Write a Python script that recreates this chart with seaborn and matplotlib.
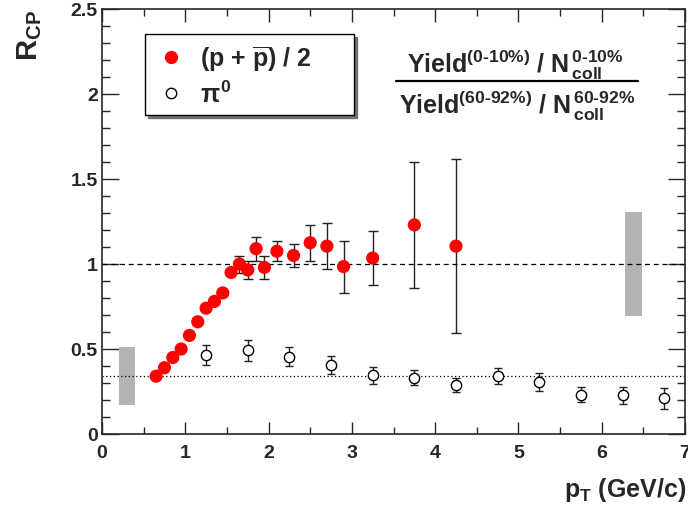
import numpy as np
import pandas as pd
import seaborn as sns
import matplotlib.pyplot as plt
from matplotlib.lines import Line2D
from matplotlib.ticker import MultipleLocator

# dados
pt_p = [0.65, 0.75, 0.85, 0.95, 1.05, 1.15, 1.25, 1.35, 1.45, 1.55, 1.65, 1.75,
        1.85, 1.95, 2.1, 2.3, 2.5, 2.7, 2.9, 3.25, 3.75, 4.25]
rcp_p = [0.34, 0.39, 0.45, 0.50, 0.58, 0.66, 0.74, 0.78, 0.83, 0.95, 1.00, 0.965,
         1.09, 0.98, 1.075, 1.05, 1.125, 1.105, 0.985, 1.035, 1.23, 1.105]
err_p = [0.01, 0.01, 0.01, 0.01, 0.01, 0.01, 0.01, 0.01, 0.01, 0.01, 0.05, 0.055,
         0.07, 0.07, 0.06, 0.07, 0.105, 0.135, 0.153, 0.16, 0.37, 0.51]

pt_pi0 = [1.25, 1.75, 2.25, 2.75, 3.25, 3.75, 4.25, 4.75, 5.25, 5.75, 6.25, 6.75]
rcp_pi0 = [0.465, 0.492, 0.455, 0.408, 0.345, 0.33, 0.29, 0.341, 0.306, 0.231, 0.229, 0.21]
err_pi0 = [0.057, 0.06, 0.055, 0.053, 0.048, 0.044, 0.041, 0.049, 0.051, 0.045, 0.05, 0.06]

# incertezas de normalizacao (caixas cinza)
box_x = [0.3, 6.38]
box_w = [0.2, 0.2]
box_lo = [0.17, 0.695]
box_hi = [0.51, 1.305]

ref_proton = 1.0
ref_pion = 0.34

df_p = pd.DataFrame({"pt": pt_p, "rcp": rcp_p, "err": err_p})
df_pi = pd.DataFrame({"pt": pt_pi0, "rcp": rcp_pi0, "err": err_pi0})

sns.set_style("ticks")
plt.rcParams['font.family'] = ['Liberation Sans', 'DejaVu Sans']
plt.rcParams['font.weight'] = 'bold'
plt.rcParams['mathtext.fontset'] = 'custom'
plt.rcParams['mathtext.rm'] = 'Liberation Sans:bold'
plt.rcParams['mathtext.bf'] = 'Liberation Sans:bold'
plt.rcParams['mathtext.it'] = 'Liberation Sans:bold'
plt.rcParams['mathtext.sf'] = 'Liberation Sans:bold'

fig = plt.figure(figsize=(6.88, 5.10), dpi=100)
ax = fig.add_axes([102/688, 1 - 435/510, 583/688, 425/510])

# caixas cinza
ax.bar(box_x, np.array(box_hi) - np.array(box_lo), width=box_w, bottom=box_lo,
       color="#b3b3b3", edgecolor="none", zorder=1)

ax.axhline(ref_proton, color="black", lw=0.9, ls=(0, (4, 3)), zorder=1)
ax.axhline(ref_pion, color="black", lw=0.9, ls=(0, (1, 2)), zorder=1)

ax.errorbar(df_p["pt"], df_p["rcp"], yerr=df_p["err"], fmt="none",
            ecolor="#222222", elinewidth=1.0, capsize=3.5, capthick=1.0, zorder=2)
ax.errorbar(df_pi["pt"], df_pi["rcp"], yerr=df_pi["err"], fmt="none",
            ecolor="#222222", elinewidth=1.0, capsize=3, capthick=1.0, zorder=2)

sns.scatterplot(data=df_p, x="pt", y="rcp", ax=ax, color="red", s=90,
                edgecolor="none", zorder=3, legend=False)
sns.scatterplot(data=df_pi, x="pt", y="rcp", ax=ax, facecolor="white", s=55,
                edgecolor="black", linewidth=1.0, zorder=3, legend=False)

ax.set_xlim(0, 7)
ax.set_ylim(0, 2.5)
ax.xaxis.set_major_locator(MultipleLocator(1))
ax.xaxis.set_minor_locator(MultipleLocator(0.5))
ax.yaxis.set_major_locator(MultipleLocator(0.5))
ax.yaxis.set_minor_locator(MultipleLocator(0.1))
ax.set_yticks([0, 0.5, 1, 1.5, 2, 2.5])
ax.set_yticklabels(["0", "0.5", "1", "1.5", "2", "2.5"])
ax.tick_params(axis="x", which="both", direction="in", top=True, labelsize=14, pad=7)
ax.tick_params(axis="x", which="major", length=9, width=1)
ax.tick_params(axis="x", which="minor", length=5, width=1)
ax.tick_params(axis="y", which="both", direction="in", right=True, labelsize=14, pad=3)
ax.tick_params(axis="y", which="major", length=12, width=1)
ax.tick_params(axis="y", which="minor", length=6, width=1)
for s in ax.spines.values():
    s.set_linewidth(1.2)
ax.set_xlabel("")
ax.set_ylabel("")

fig.text(686/688, 1 - 490/510, r"p$_\mathregular{T}$ (GeV/c)", ha="right", va="center",
         fontsize=18, fontweight="bold")
fig.text(30/688, 1 - 10/510, r"R$_\mathregular{CP}$", ha="center", va="top",
         rotation=90, fontsize=21, fontweight="bold")

# legenda
handles = [
    Line2D([], [], ls="none", marker="o", markersize=9.5, color="red", markeredgecolor="none"),
    Line2D([], [], ls="none", marker="o", markersize=7.5, markerfacecolor="white",
           markeredgecolor="black", markeredgewidth=1.0),
]
labels = [r"(p + $\overline{\mathregular{p}}$) / 2", r"$\pi^{0}$"]
leg = ax.legend(handles, labels, loc="upper left",
                bbox_to_anchor=((145 - 102)/583, (435 - 115)/425, (354 - 145)/583, (115 - 35)/425),
                mode="expand", borderaxespad=0, fancybox=False, shadow={"color": "0.45", "alpha": 1},
                framealpha=1, edgecolor="black", fontsize=18, handletextpad=0.45,
                labelspacing=0.3, borderpad=0.35, handlelength=1.4)
leg.get_frame().set_linewidth(1.0)

# razao
fig.text(515/688, 1 - 65/510,
         r"Yield$^{(0\text{-}10\%)}$ / N$^{\,0\text{-}10\%}_{\,\mathregular{coll}}$",
         ha="center", va="center", fontsize=18, fontweight="bold")
fig.add_artist(Line2D([396/688, 638/688], [1 - 82/510, 1 - 82/510], color="black", lw=1.6))
fig.text(517/688, 1 - 106/510,
         r"Yield$^{(60\text{-}92\%)}$ / N$^{\,60\text{-}92\%}_{\,\mathregular{coll}}$",
         ha="center", va="center", fontsize=18, fontweight="bold")

fig.savefig("out.png", dpi=100)
